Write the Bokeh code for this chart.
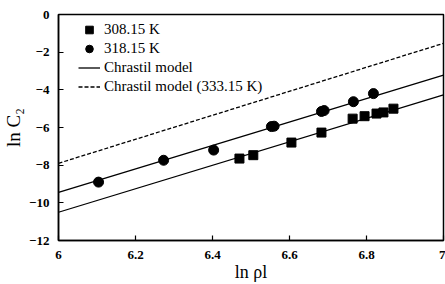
from bokeh.plotting import figure
from bokeh.models import Range1d, Legend, LegendItem, FixedTicker
from bokeh.embed import file_html
from bokeh.resources import INLINE

# Data
x_308 = [6.47, 6.506, 6.605, 6.683, 6.764, 6.795, 6.826, 6.844, 6.87]
y_308 = [-7.65, -7.47, -6.8, -6.27, -5.53, -5.4, -5.26, -5.2, -5.0]
x_318 = [6.104, 6.273, 6.403, 6.553, 6.56, 6.683, 6.69, 6.766, 6.818]
y_318 = [-8.9, -7.74, -7.2, -5.95, -5.93, -5.15, -5.1, -4.63, -4.2]
model_x = [6.0, 7.0]
model_308 = [-10.5, -4.27]
model_318 = [-9.45, -3.22]
model_333 = [-7.9, -1.53]

x_ticks = [6, 6.2, 6.4, 6.6, 6.8, 7]
y_ticks = [0, -2, -4, -6, -8, -10, -12]

FONT = "Liberation Serif"

p = figure(width=445, height=284, output_backend="svg", toolbar_location=None,
           x_range=Range1d(6, 7), y_range=Range1d(-12, 0),
           min_border_left=57, min_border_right=2, min_border_top=14, min_border_bottom=42)
p.grid.visible = False
p.background_fill_color = "white"
p.border_fill_color = "white"
p.outline_line_color = "black"
p.outline_line_width = 1.5

l308 = p.line(model_x, model_308, line_color="black", line_width=1.3)
l318 = p.line(model_x, model_318, line_color="black", line_width=1.3)
l333 = p.line(model_x, model_333, line_color="black", line_width=1.3, line_dash="4 2")
s308 = p.scatter(x_308, y_308, marker="square", size=9, fill_color="black", line_color="black")
s318 = p.scatter(x_318, y_318, marker="circle", size=10, fill_color="black", line_color="black")

for ax in (p.xaxis[0], p.yaxis[0]):
    ax.major_tick_in = 5
    ax.major_tick_out = 0
    ax.minor_tick_line_color = None
    ax.axis_line_width = 1.5
    ax.major_tick_line_width = 1.2
    ax.major_label_text_font = FONT
    ax.major_label_text_font_size = "13px"
    ax.major_label_text_font_style = "bold"
    ax.major_label_text_color = "black"
    ax.axis_label_text_font = FONT
    ax.axis_label_text_font_style = "normal"
    ax.axis_label_text_color = "black"

p.xaxis.ticker = FixedTicker(ticks=x_ticks)
p.yaxis.ticker = FixedTicker(ticks=y_ticks)
p.xaxis.major_label_overrides = {6: "6", 7: "7"}
p.yaxis.major_label_overrides = {0: "0"}
p.xaxis.axis_label = "ln \u03c1l"
p.xaxis.axis_label_text_font_size = "18px"
p.xaxis.axis_label_standoff = 0
p.xaxis.major_label_standoff = 10
p.yaxis.axis_label = "ln C\u2082"
p.yaxis.axis_label_text_font_size = "19px"
p.yaxis.axis_label_standoff = 2
p.yaxis.major_label_standoff = 9

legend = Legend(items=[
    LegendItem(label="308.15 K", renderers=[s308]),
    LegendItem(label="318.15 K", renderers=[s318]),
    LegendItem(label="Chrastil model", renderers=[l318]),
    LegendItem(label="Chrastil model (333.15 K)", renderers=[l333]),
], location=(18, 142))
legend.border_line_alpha = 0
legend.background_fill_alpha = 0
legend.padding = 2
legend.spacing = 0
legend.label_height = 19
legend.glyph_height = 19
legend.glyph_width = 22
legend.label_standoff = 4
legend.label_text_font = FONT
legend.label_text_font_size = "15px"
legend.label_text_color = "black"
p.add_layout(legend, "center")

open("out.html", "w").write(file_html(p, INLINE))
